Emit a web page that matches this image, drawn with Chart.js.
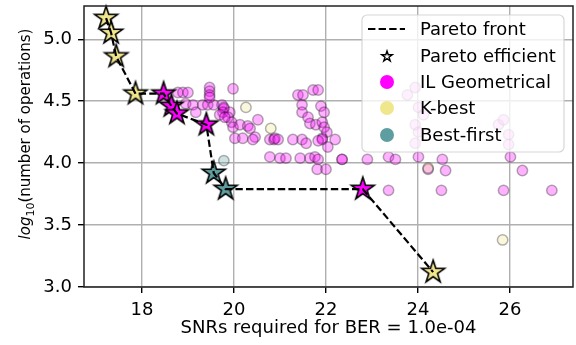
<!DOCTYPE html>
<html>
<head>
<meta charset="utf-8">
<script src="https://cdn.jsdelivr.net/npm/chart.js@4.4.0/dist/chart.umd.min.js"></script>
<style>
  html, body { margin: 0; padding: 0; background: #fff; }
</style>
</head>
<body>
<canvas id="myChart" width="576" height="345"></canvas>
<script>
// pareto efficient configurations (stars + dashed front)
const paretoX = [17.22, 17.33, 17.44, 17.86, 18.47, 18.64, 18.76, 19.40, 19.56, 19.82, 22.80, 24.33];
const paretoY = [5.17, 5.05, 4.86, 4.56, 4.56, 4.46, 4.40, 4.31, 3.92, 3.79, 3.79, 3.12];
const paretoMethod = ['K-best', 'K-best', 'K-best', 'K-best',
    'IL Geometrical', 'IL Geometrical', 'IL Geometrical', 'IL Geometrical',
    'Best-first', 'Best-first', 'IL Geometrical', 'K-best'];

// all other configurations (faded)
const ilX = [18.78, 18.89, 19.00, 18.95, 19.11, 19.17, 19.32, 19.43, 19.56, 19.47,
    19.47, 19.47, 19.47, 19.74, 19.78, 19.78, 19.76, 19.91, 19.69, 19.87,
    19.95, 19.98, 19.80, 20.13, 20.02, 20.19, 19.98, 20.30, 20.35, 20.52,
    20.46, 20.41, 20.78, 20.87, 20.89, 20.96, 20.78, 21.00, 21.13, 21.44,
    21.65, 21.76, 21.83, 21.39, 21.50, 21.48, 21.48, 21.61, 21.65, 21.78,
    21.72, 21.83, 21.89, 21.96, 21.92, 21.96, 22.02, 21.28, 21.48, 21.57,
    21.92, 21.92, 21.83, 22.20, 22.04, 21.81, 22.00, 22.35, 22.35, 22.90,
    23.36, 23.51, 24.01, 24.53, 24.60, 24.22, 23.36, 24.51, 25.86, 26.91,
    26.01, 26.27, 23.77, 23.94, 24.01, 24.12, 23.94, 24.01, 23.94, 25.75,
    25.86, 25.97, 25.97];
const ilY = [4.57, 4.57, 4.57, 4.48, 4.47, 4.41, 4.47, 4.47, 4.47, 4.61,
    4.58, 4.55, 4.53, 4.47, 4.44, 4.45, 4.41, 4.41, 4.39, 4.37,
    4.33, 4.29, 4.37, 4.31, 4.20, 4.20, 4.60, 4.30, 4.28, 4.35,
    4.21, 4.19, 4.19, 4.19, 4.20, 4.19, 4.05, 4.04, 4.04, 4.04,
    4.04, 4.05, 4.03, 4.55, 4.55, 4.47, 4.41, 4.37, 4.32, 4.31,
    4.59, 4.59, 4.46, 4.41, 4.33, 4.29, 4.25, 4.19, 4.19, 4.16,
    4.20, 4.19, 4.18, 4.19, 4.13, 3.95, 3.95, 4.03, 4.03, 4.03,
    4.05, 4.03, 4.05, 4.03, 3.94, 3.95, 3.78, 3.78, 3.78, 3.78,
    4.05, 3.94, 4.55, 4.61, 4.45, 4.39, 4.31, 4.25, 4.16, 4.31,
    4.35, 4.23, 4.15];
const kbX = [20.26, 20.80, 24.22, 25.84];
const kbY = [4.45, 4.28, 3.96, 3.38];
const bfX = [19.78];
const bfY = [4.02];

const xTicks = [18, 20, 22, 24, 26];
const yTicks = [3.0, 3.5, 4.0, 4.5, 5.0];

const methodColors = {
    'IL Geometrical': '#ff00ff',
    'K-best': '#f0e68c',
    'Best-first': '#5f9ea0',
};
const legendItems = ['IL Geometrical', 'K-best', 'Best-first'];

const FONT = '"DejaVu Sans", sans-serif';

function toPoints(xs, ys) {
    return xs.map((x, i) => ({ x: x, y: ys[i] }));
}

function starPath(ctx, cx, cy, r) {
    const inner = r * 0.381966;
    ctx.beginPath();
    for (let i = 0; i < 10; i++) {
        const rad = i % 2 === 0 ? r : inner;
        const a = -Math.PI / 2 + i * Math.PI / 5;
        const px = cx + rad * Math.cos(a);
        const py = cy + rad * Math.sin(a);
        if (i === 0) ctx.moveTo(px, py); else ctx.lineTo(px, py);
    }
    ctx.closePath();
}

function makeStar(fill, r, lw) {
    const c = document.createElement('canvas');
    const s = Math.ceil(2 * (r + lw)) + 2;
    c.width = s;
    c.height = s;
    const g = c.getContext('2d');
    starPath(g, s / 2, s / 2, r);
    g.fillStyle = fill;
    g.fill();
    g.lineWidth = lw;
    g.lineJoin = 'miter';
    g.strokeStyle = '#000';
    g.stroke();
    return c;
}

const starImgs = {};
for (const m in methodColors) starImgs[m] = makeStar(methodColors[m], 12, 1.6);

// box round the axes, like matplotlib spines
const framePlugin = {
    id: 'frame',
    afterDatasetsDraw(chart) {
        const { ctx, chartArea: a } = chart;
        ctx.save();
        ctx.strokeStyle = '#222';
        ctx.lineWidth = 1.5;
        ctx.strokeRect(a.left, a.top, a.right - a.left, a.bottom - a.top);
        ctx.restore();
    }
};

// y title with italic log and subscript 10
const yTitlePlugin = {
    id: 'ytitle',
    afterDraw(chart) {
        const ctx = chart.ctx;
        const fs = 15;
        ctx.save();
        ctx.translate(30, 134);
        ctx.rotate(-Math.PI / 2);
        ctx.fillStyle = '#000';
        ctx.textBaseline = 'alphabetic';
        ctx.textAlign = 'left';
        ctx.font = 'italic ' + fs + 'px ' + FONT;
        const w1 = ctx.measureText('log').width;
        ctx.font = Math.round(fs * 0.7) + 'px ' + FONT;
        const w2 = ctx.measureText('10').width;
        ctx.font = fs + 'px ' + FONT;
        const w3 = ctx.measureText('(number of operations)').width;
        let x = -(w1 + w2 + w3) / 2;
        ctx.font = 'italic ' + fs + 'px ' + FONT;
        ctx.fillText('log', x, 0);
        x += w1;
        ctx.font = Math.round(fs * 0.7) + 'px ' + FONT;
        ctx.fillText('10', x, 3.5);
        x += w2;
        ctx.font = fs + 'px ' + FONT;
        ctx.fillText('(number of operations)', x, 0);
        ctx.restore();
    }
};

// legend drawn on top of the data, semi transparent like matplotlib
const legendPlugin = {
    id: 'mylegend',
    afterDraw(chart) {
        const ctx = chart.ctx;
        const bx = 362, by = 15, bw = 202, bh = 137, rr = 5;
        ctx.save();
        ctx.beginPath();
        ctx.moveTo(bx + rr, by);
        ctx.arcTo(bx + bw, by, bx + bw, by + bh, rr);
        ctx.arcTo(bx + bw, by + bh, bx, by + bh, rr);
        ctx.arcTo(bx, by + bh, bx, by, rr);
        ctx.arcTo(bx, by, bx + bw, by, rr);
        ctx.closePath();
        ctx.fillStyle = 'rgba(255,255,255,0.8)';
        ctx.fill();
        ctx.strokeStyle = 'rgba(204,204,204,0.8)';
        ctx.lineWidth = 1.2;
        ctx.stroke();

        const rows = [29, 56, 82, 108, 135];
        const sx = 387, tx = 420;
        // dashed line
        ctx.beginPath();
        ctx.setLineDash([7.4, 3.2]);
        ctx.moveTo(368, rows[0]);
        ctx.lineTo(405, rows[0]);
        ctx.strokeStyle = '#000';
        ctx.lineWidth = 2.2;
        ctx.stroke();
        ctx.setLineDash([]);
        // small star
        starPath(ctx, sx, rows[1] + 0.5, 5.5);
        ctx.fillStyle = '#fff';
        ctx.fill();
        ctx.lineWidth = 1.4;
        ctx.stroke();
        // circles
        legendItems.forEach((m, i) => {
            ctx.beginPath();
            ctx.arc(sx, rows[i + 2], 7, 0, Math.PI * 2);
            ctx.fillStyle = methodColors[m];
            ctx.fill();
        });
        ctx.fillStyle = '#000';
        ctx.font = '18px ' + FONT;
        ctx.textBaseline = 'middle';
        ctx.textAlign = 'left';
        const labels = ['Pareto front', 'Pareto efficient'].concat(legendItems);
        labels.forEach((t, i) => ctx.fillText(t, tx, rows[i] + 1));
        ctx.restore();
    }
};

const faded = (color) => ({
    pointRadius: 5.2,
    pointBorderWidth: 1.5,
    backgroundColor: color,
    borderColor: 'rgba(0,0,0,0.3)',
});

// keep the plot box where matplotlib put it
function noPad(s) {
    s.paddingLeft = 0;
    s.paddingRight = 0;
    s.paddingTop = 0;
    s.paddingBottom = 0;
}

const ctx = document.getElementById('myChart').getContext('2d');
new Chart(ctx, {
    type: 'scatter',
    data: {
        datasets: [
            {
                label: 'Pareto front',
                data: toPoints(paretoX, paretoY),
                showLine: true,
                pointRadius: 0,
                borderColor: '#000',
                borderWidth: 2.2,
                borderDash: [7.4, 3.2],
                fill: false,
                clip: false,
            },
            {
                label: 'Pareto efficient',
                data: toPoints(paretoX, paretoY),
                pointStyle: paretoMethod.map(m => starImgs[m]),
                pointRadius: 12,
                clip: false,
            },
            Object.assign({ label: 'Best-first', data: toPoints(bfX, bfY) }, faded('rgba(95,158,160,0.3)')),
            Object.assign({ label: 'K-best', data: toPoints(kbX, kbY) }, faded('rgba(240,230,140,0.3)')),
            Object.assign({ label: 'IL Geometrical', data: toPoints(ilX, ilY) }, faded('rgba(255,0,255,0.3)')),
        ]
    },
    options: {
        responsive: false,
        animation: false,
        events: [],
        layout: { autoPadding: false, padding: { left: 0, right: 3, top: 6, bottom: 0 } },
        plugins: {
            legend: { display: false },
            tooltip: { enabled: false },
        },
        scales: {
            x: {
                type: 'linear',
                min: 16.74,
                max: 27.37,
                afterBuildTicks: s => { s.ticks = xTicks.map(v => ({ value: v })); },
                afterFit: s => { s.height = 58; noPad(s); },
                grid: { color: '#b0b0b0', lineWidth: 1.4, tickColor: '#000', tickLength: 6, tickWidth: 1.4 },
                border: { display: false },
                ticks: { color: '#000', font: { family: FONT, size: 18 }, padding: 7, maxRotation: 0, callback: v => String(v) },
                title: {
                    display: true,
                    text: 'SNRs required for BER = 1.0e-04',
                    color: '#000',
                    font: { family: FONT, size: 18 },
                    padding: { top: 0, bottom: 6 },
                },
            },
            y: {
                type: 'linear',
                min: 3.0,
                max: 5.268,
                afterBuildTicks: s => { s.ticks = yTicks.map(v => ({ value: v })); },
                afterFit: s => { s.width = 84; noPad(s); },
                grid: { color: '#b0b0b0', lineWidth: 1.4, tickColor: '#000', tickLength: 6, tickWidth: 1.4 },
                border: { display: false },
                ticks: { color: '#000', font: { family: FONT, size: 18 }, padding: 6, callback: v => v.toFixed(1) },
            },
        }
    },
    plugins: [framePlugin, yTitlePlugin, legendPlugin]
});
</script>
</body>
</html>
